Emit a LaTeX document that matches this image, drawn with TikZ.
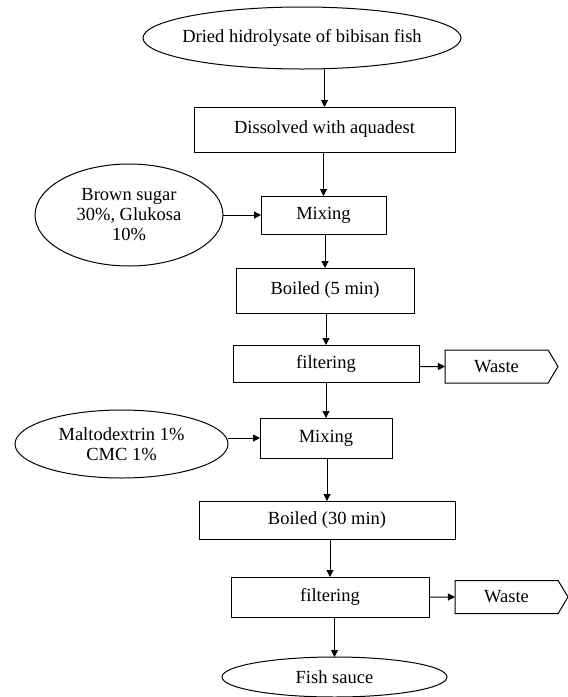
\documentclass[tikz,border=0pt]{standalone}
\usepackage{fontspec}
\setmainfont{Liberation Serif}
\usepackage{tikz}
\usetikzlibrary{shapes.geometric, shapes.symbols, arrows.meta, positioning}

\begin{document}
\begin{tikzpicture}[
			x=1pt, y=-1pt,
			node distance=36pt and 30pt,
			every node/.style={draw, line width=1pt, rectangle, align=center, inner sep=0pt, outer sep=0pt, font=\fontsize{18.5}{20}\selectfont},
			operation/.style={ellipse, draw, align=center},
			waste/.style={signal, signal to=east, signal pointer angle=118, minimum width=113pt, minimum height=33pt},
			arrow/.style={-{Triangle[length=7pt,width=7pt]}, line width=1pt}
			]
			\useasboundingbox (0,0) rectangle (568,697);
			
			% Nodes
			\node (dried) [operation, minimum width=318pt, minimum height=62pt, inner xsep=-10pt] at (302,38) {Dried hidrolysate of bibisan fish};
			\node (dissolve) [below=38pt of dried, xshift=22.5pt, minimum width=261pt, minimum height=45pt] {Dissolved with aquadest};
			\node (mix1) [below=44pt of dissolve, xshift=-1pt, minimum width=125pt, minimum height=38pt] {Mixing};
			\node (brown) [operation, left=38pt of mix1, minimum width=188pt, minimum height=102pt] {Brown sugar\\30\%, Glukosa\\10\%};
			\node (boil5) [below=34pt of mix1, xshift=1.5pt, minimum width=178pt, minimum height=45pt] {Boiled (5 min)};
			\node (filt1) [below=32pt of boil5, xshift=1pt, minimum width=186pt, minimum height=37pt] {filtering};
			\node (waste1) [waste, right=26pt of filt1, yshift=-3pt] {Waste};
			\node (mix2) [below=of filt1, minimum width=132pt, minimum height=40pt] {Mixing};
			\node (malto) [operation, left=32pt of mix2, yshift=-6pt, minimum width=213pt, minimum height=68pt] {Maltodextrin 1\%\\CMC 1\%};
			\node (boil30) [below=43pt of mix2, xshift=1pt, minimum width=256pt, minimum height=38pt] {Boiled (30 min)};
			\node (filt2) [below=38pt of boil30, xshift=3pt, minimum width=198pt, minimum height=40pt] {filtering};
			\node (waste2) [waste, right=26pt of filt2] {Waste};
			\node (fish) [operation, below=40pt of filt2, xshift=4.5pt, minimum width=225pt, minimum height=40pt] {Fish sauce};
			
			% Connections
			\draw [arrow] (dried.south -| dissolve) -- (dissolve);
			\draw [arrow] (dissolve.south -| mix1) -- (mix1);
			\draw [arrow] (brown.east) -- (mix1.west);
			\draw [arrow] (mix1.south -| boil5) -- (boil5);
			\draw [arrow] (boil5.south -| filt1) -- (filt1);
			\draw [arrow] (filt1.east |- waste1) -- (waste1);
			\draw [arrow] (filt1.south -| mix2) -- (mix2);
			\draw [arrow] (malto.east |- mix2) -- (mix2.west);
			\draw [arrow] (mix2.south -| boil30) -- (boil30);
			\draw [arrow] (boil30.south -| filt2) -- (filt2);
			\draw [arrow] (filt2.east |- waste2) -- (waste2);
			\draw [arrow] (filt2.south -| fish) -- (fish);
			
		\end{tikzpicture}
\end{document}
